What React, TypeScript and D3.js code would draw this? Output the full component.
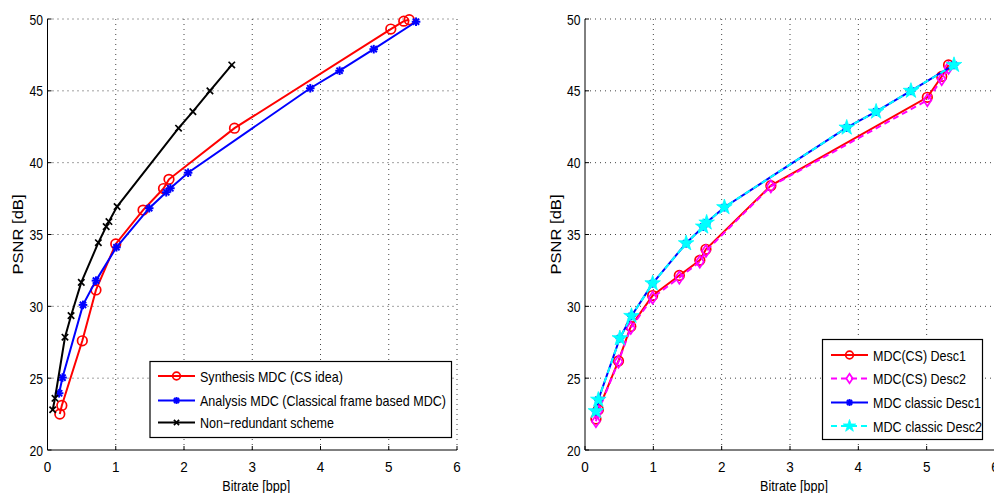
import React from "react";
import * as d3 from "d3";

// Left plot data
const synX = [0.18, 0.21, 0.51, 0.71, 1.0, 1.4, 1.7, 1.78, 2.74, 5.03, 5.22, 5.3];
const synY = [22.5, 23.1, 27.6, 31.14, 34.34, 36.7, 38.2, 38.84, 42.4, 49.3, 49.85, 49.95];
const anaX = [0.17, 0.22, 0.52, 0.71, 1.01, 1.49, 1.74, 1.8, 2.06, 3.85, 4.28, 4.78, 5.4];
const anaY = [23.95, 25.04, 30.1, 31.79, 34.11, 36.83, 37.94, 38.22, 39.3, 45.18, 46.4, 47.9, 49.81];
const nrX = [0.076, 0.11, 0.256, 0.345, 0.495, 0.745, 0.86, 0.9, 1.02, 1.92, 2.13, 2.38, 2.7];
const nrY = [22.8, 23.6, 27.85, 29.35, 31.67, 34.43, 35.55, 35.9, 36.94, 42.4, 43.55, 45.0, 46.8];

// Right plot data
const csX = [0.16, 0.195, 0.49, 0.67, 0.99, 1.38, 1.68, 1.77, 2.72, 5.01, 5.22, 5.32];
const cs1Y = [22.15, 22.8, 26.2, 28.6, 30.75, 32.15, 33.2, 33.97, 38.4, 44.55, 46.0, 46.8];
const cs2Y = [22.0, 22.7, 26.15, 28.5, 30.6, 32.0, 33.1, 33.85, 38.35, 44.35, 45.8, 46.6];
const clX = [0.16, 0.195, 0.51, 0.68, 0.99, 1.48, 1.73, 1.78, 2.04, 3.83, 4.26, 4.77, 5.4];
const clY = [22.7, 23.5, 27.78, 29.33, 31.6, 34.39, 35.55, 35.83, 36.9, 42.44, 43.55, 45.0, 46.8];

const xTicks = [0, 1, 2, 3, 4, 5, 6];
const yTicks = [20, 25, 30, 35, 40, 45, 50];

const leftLegend = ["Synthesis MDC (CS idea)", "Analysis MDC (Classical frame based MDC)", "Non\u2212redundant scheme"];
const leftLegendW = [143, 246, 134];
const rightLegend = ["MDC(CS) Desc1", "MDC(CS) Desc2", "MDC classic Desc1", "MDC classic Desc2"];
const rightLegendW = [93, 93, 108, 109];

const FONT = "'Liberation Sans', Arial, Helvetica, sans-serif";

type MarkerKind = "circle" | "asterisk" | "x" | "diamond" | "star";

function Marker({ kind, cx, cy, color, small }: { kind: MarkerKind; cx: number; cy: number; color: string; small?: boolean }) {
  const k = small ? 0.8 : 1;
  if (kind === "circle") return <circle cx={cx} cy={cy} r={4.8 * k} fill="none" stroke={color} strokeWidth={1.7} />;
  if (kind === "diamond") {
    const p = `${cx},${cy - 6 * k} ${cx + 4 * k},${cy} ${cx},${cy + 6 * k} ${cx - 4 * k},${cy}`;
    return <polygon points={p} fill="none" stroke={color} strokeWidth={1.7} />;
  }
  if (kind === "x") {
    const s = 3.2 * k;
    return (
      <g stroke={color} strokeWidth={1.7}>
        <line x1={cx - s} y1={cy - s} x2={cx + s} y2={cy + s} />
        <line x1={cx - s} y1={cy + s} x2={cx + s} y2={cy - s} />
      </g>
    );
  }
  if (kind === "asterisk") {
    const s = 4.3 * k;
    const d = 3.1 * k;
    return (
      <g stroke={color} strokeWidth={2}>
        <line x1={cx} y1={cy - s} x2={cx} y2={cy + s} />
        <line x1={cx - d} y1={cy - d} x2={cx + d} y2={cy + d} />
        <line x1={cx - d} y1={cy + d} x2={cx + d} y2={cy - d} />
        <line x1={cx - s} y1={cy} x2={cx + s} y2={cy} />
      </g>
    );
  }
  const sym = d3.symbol(d3.symbolStar, 75 * k * k)();
  return <path d={sym || ""} transform={`translate(${cx},${cy})`} fill={color} stroke={color} strokeWidth={0.8} />;
}

interface Series {
  xs: number[];
  ys: number[];
  color: string;
  dash?: string;
  marker: MarkerKind;
}

function Panel({ x0, x1, y0, y1, series, legend, legendW, legendBox }: {
  x0: number; x1: number; y0: number; y1: number;
  series: Series[]; legend: string[]; legendW: number[];
  legendBox: { x: number; y: number; w: number; h: number; rowY: number[]; lx0: number; lx1: number; tx: number };
}) {
  const x = d3.scaleLinear().domain([0, 6]).range([x0, x1]);
  const y = d3.scaleLinear().domain([20, 50]).range([y1, y0]);
  const line = d3.line<[number, number]>().x((d) => x(d[0])).y((d) => y(d[1]));
  const cx = (x0 + x1) / 2 + 4;
  const cy = (y0 + y1) / 2;
  return (
    <g fontFamily={FONT}>
      <g stroke="#444" strokeWidth={1} strokeDasharray="1,4">
        {xTicks.slice(1).map((t) => (
          <line key={"gx" + t} x1={x(t)} x2={x(t)} y1={y(20)} y2={y(50)} />
        ))}
        {yTicks.slice(1).map((t) => (
          <line key={"gy" + t} x1={x(0)} x2={x(6)} y1={y(t)} y2={y(t)} />
        ))}
      </g>
      <line x1={x(0)} x2={x(0)} y1={y(20)} y2={y(50)} stroke="#000" strokeWidth={1} />
      <line x1={x(0)} x2={x(6)} y1={y(20)} y2={y(20)} stroke="#000" strokeWidth={1} />
      {xTicks.map((t) => (
        <g key={"xt" + t}>
          <line x1={x(t)} x2={x(t)} y1={y(20)} y2={y(20) - 4} stroke="#000" />
          <text x={x(t)} y={y(20) + 21.5} fontSize={14.5} textAnchor="middle" textLength={7.5} lengthAdjust="spacingAndGlyphs">{t}</text>
        </g>
      ))}
      {yTicks.map((t) => (
        <g key={"yt" + t}>
          <line x1={x(0)} x2={x(0) + 4} y1={y(t)} y2={y(t)} stroke="#000" />
          <text x={x(0) - 4.5} y={y(t) + 5.5} fontSize={14.5} textAnchor="end" textLength={13.5} lengthAdjust="spacingAndGlyphs">{t}</text>
        </g>
      ))}
      <text x={cx} y={491} fontSize={14} textAnchor="middle" textLength={68} lengthAdjust="spacingAndGlyphs">Bitrate [bpp]</text>
      <text transform={`translate(${x0 - 24.5},${cy}) rotate(-90)`} fontSize={14} textAnchor="middle" textLength={80} lengthAdjust="spacingAndGlyphs">PSNR [dB]</text>
      {series.map((s, i) => {
        const pts = s.xs.map((v, k) => [v, s.ys[k]] as [number, number]);
        return (
          <g key={"s" + i}>
            <path d={line(pts) || ""} fill="none" stroke={s.color} strokeWidth={2} strokeDasharray={s.dash} />
            {pts.map((p, k) => (
              <Marker key={k} kind={s.marker} cx={x(p[0])} cy={y(p[1])} color={s.color} />
            ))}
          </g>
        );
      })}
      <rect x={legendBox.x} y={legendBox.y} width={legendBox.w} height={legendBox.h} fill="#fff" stroke="#000" strokeWidth={1.2} />
      {legend.map((lab, i) => {
        const s = series[i];
        const ry = legendBox.rowY[i];
        return (
          <g key={"l" + i}>
            <line x1={legendBox.lx0} x2={legendBox.lx1} y1={ry} y2={ry} stroke={s.color} strokeWidth={2} strokeDasharray={s.dash} />
            <Marker kind={s.marker} cx={(legendBox.lx0 + legendBox.lx1) / 2} cy={ry} color={s.color} small />
            <text x={legendBox.tx} y={ry + 5.5} fontSize={15} textLength={legendW[i]} lengthAdjust="spacingAndGlyphs">{lab}</text>
          </g>
        );
      })}
    </g>
  );
}

export default function App() {
  const leftSeries: Series[] = [
    { xs: synX, ys: synY, color: "#ff0000", marker: "circle" },
    { xs: anaX, ys: anaY, color: "#0000ff", marker: "asterisk" },
    { xs: nrX, ys: nrY, color: "#000000", marker: "x" },
  ];
  const rightSeries: Series[] = [
    { xs: csX, ys: cs1Y, color: "#ff0000", marker: "circle" },
    { xs: csX, ys: cs2Y, color: "#ff00ff", marker: "diamond", dash: "6,4" },
    { xs: clX, ys: clY, color: "#0000ff", marker: "asterisk" },
    { xs: clX, ys: clY, color: "#00ffff", marker: "star", dash: "6,4" },
  ];
  return (
    <svg width={994} height={493} style={{ position: "absolute", left: 0, top: 0, background: "#fff" }}>
      <rect width={994} height={493} fill="#fff" />
      <Panel
        x0={47.5} x1={457} y0={19} y1={450}
        series={leftSeries} legend={leftLegend} legendW={leftLegendW}
        legendBox={{ x: 150, y: 361.5, w: 301.5, h: 76, rowY: [376, 400.5, 422.5], lx0: 158, lx1: 195, tx: 200 }}
      />
      <Panel
        x0={585} x1={995} y0={19} y1={450}
        series={rightSeries} legend={rightLegend} legendW={rightLegendW}
        legendBox={{ x: 822.5, y: 339.5, w: 160, h: 100, rowY: [355, 378.5, 402.5, 426], lx0: 831, lx1: 868, tx: 873 }}
      />
    </svg>
  );
}
